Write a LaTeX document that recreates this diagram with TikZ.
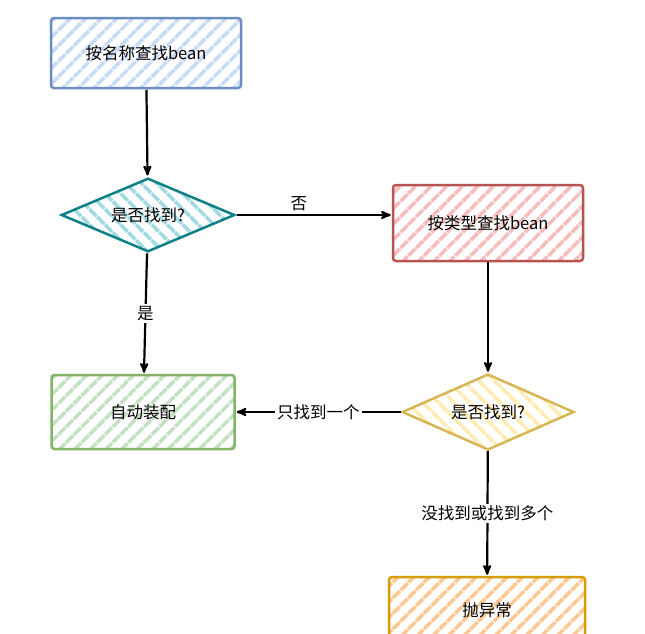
\documentclass[tikz,border=0pt]{standalone}
\usepackage{fontspec}
\setmainfont{Noto Sans CJK SC}
\usetikzlibrary{arrows, positioning, calc, shapes.geometric, patterns.meta}
\definecolor{blueline}{HTML}{6C8EBF}
\definecolor{bluefill}{HTML}{C8DAF5}
\definecolor{tealline}{HTML}{0E8088}
\definecolor{tealfill}{HTML}{A0DADE}
\definecolor{redline}{HTML}{B85450}
\definecolor{redfill}{HTML}{F5BDBB}
\definecolor{yellowline}{HTML}{D6B656}
\definecolor{yellowfill}{HTML}{FFEBB0}
\definecolor{greenline}{HTML}{82B366}
\definecolor{greenfill}{HTML}{C5E0C2}
\definecolor{orangeline}{HTML}{D79B00}
\definecolor{orangefill}{HTML}{FFC890}

\begin{document}
\begin{tikzpicture}[x=1pt,y=-1pt,>=stealth',shorten >=1pt,
				line width=2.2pt,font=\fontsize{16.5}{20}\selectfont,
				box/.style={rectangle,rounded corners=3pt,draw=#1line,line width=2.5pt,
					pattern={Lines[angle=45,distance=11pt,line width=3.5pt]},pattern color=#1fill,
					minimum width=190pt,minimum height=70pt},
				test/.style={diamond,aspect=2.3,draw=#1line,line width=2.5pt,
					pattern={Lines[angle=-45,distance=11pt,line width=3.5pt]},pattern color=#1fill,
					minimum width=172pt,minimum height=76pt,inner sep=0pt},
				lab/.style={fill=white,inner sep=2pt}]
				\useasboundingbox (0,0) rectangle (645,633);
				
				\node[box=blue] (byname) at (146,53) {按名称查找bean};
				\node[test=teal,minimum width=174pt,minimum height=74pt] (found1) at (148,215) {是否找到?};
				\node[box=red,minimum height=76pt] (bytype) at (488,223) {按类型查找bean};
				\node[test=yellow] (found2) at (488,412) {是否找到?};
				\node[box=green,minimum width=183pt,minimum height=74pt] (wire) at (143,412) {自动装配};
				\node[box=orange,minimum width=196pt,minimum height=66pt] (throw) at (487,610) {抛异常};
				
				\draw[->] (byname) -- (found1);
				\draw[->] (found1) -- node[above,pos=0.4] {否} (bytype.west |- found1);
				\draw[->] (found1) -- node[lab] {是} (wire);
				\draw[->] (bytype) -- (found2);
				\draw[->] (found2) -- node[lab] {只找到一个} (wire);
				\draw[->] (found2) -- node[lab] {没找到或找到多个} (throw);
			\end{tikzpicture}
\end{document}
